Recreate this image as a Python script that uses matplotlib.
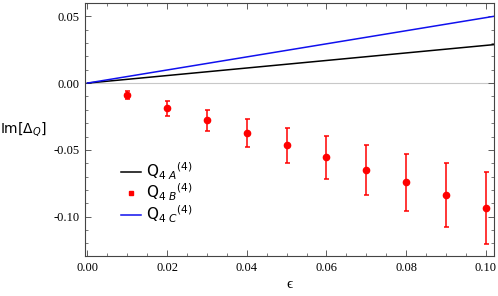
import matplotlib
matplotlib.use("Agg")
import matplotlib.pyplot as plt
from matplotlib.lines import Line2D
from matplotlib.ticker import MultipleLocator, FormatStrFormatter

# data
eps_pts = [0.01, 0.02, 0.03, 0.04, 0.05, 0.06, 0.07, 0.08, 0.09, 0.10]
im_B = [-0.0092, -0.0187, -0.0280, -0.0372, -0.0467, -0.0557, -0.0650, -0.0744, -0.0837, -0.0934]
err_B = [0.0030, 0.0056, 0.0081, 0.0105, 0.0133, 0.0163, 0.0187, 0.0216, 0.0240, 0.0270]

eps_line = [0.0, 0.102]
im_A = [0.0, 0.0288]
im_C = [0.0, 0.0500]

plt.rcParams['mathtext.fontset'] = 'dejavusans'

fig = plt.figure(figsize=(4.98, 2.96), dpi=100)
ax = fig.add_axes([0.1707, 0.135, 0.821, 0.855])

ax.axhline(0, color='#c8c8c8', lw=0.8, zorder=0)
ax.plot(eps_line, im_A, color='black', lw=1.1)
ax.plot(eps_line, im_C, color='#1010ee', lw=1.1)
ax.errorbar(eps_pts, im_B, yerr=err_B, fmt='o', color='#ff0000', ms=4.5,
            elinewidth=1.1, capsize=1.8, capthick=1.1)

ax.set_xlim(-0.0006, 0.102)
ax.set_ylim(-0.1295, 0.06)

ax.xaxis.set_major_locator(MultipleLocator(0.02))
ax.xaxis.set_minor_locator(MultipleLocator(0.005))
ax.yaxis.set_major_locator(MultipleLocator(0.05))
ax.yaxis.set_minor_locator(MultipleLocator(0.01))
ax.xaxis.set_major_formatter(FormatStrFormatter('%.2f'))
ax.yaxis.set_major_formatter(FormatStrFormatter('%.2f'))

ax.tick_params(which='both', direction='in', top=True, right=True, color='#444444',
               labelsize=9, pad=4)
ax.tick_params(which='major', length=4, width=0.6)
ax.tick_params(which='minor', length=2, width=0.5)
for lab in ax.get_xticklabels() + ax.get_yticklabels():
    lab.set_fontfamily('Liberation Serif')
for sp in ax.spines.values():
    sp.set_color('#444444')
    sp.set_linewidth(0.8)

ax.set_xlabel('ϵ', fontsize=11, labelpad=3, family=['Liberation Serif', 'DejaVu Serif'])
ax.set_ylabel(r'Im[$\Delta_Q$]', fontsize=10, rotation=0, labelpad=22, va='center')

handles = [
    Line2D([], [], color='black', lw=1.1),
    Line2D([], [], color='#ff0000', marker='s', ls='none', ms=3.5),
    Line2D([], [], color='#1010ee', lw=1.1),
]
labels = [r'Q$_{4\ A}$$^{(4)}$', r'Q$_{4\ B}$$^{(4)}$', r'Q$_{4\ C}$$^{(4)}$']
ax.legend(handles, labels, loc='center left', bbox_to_anchor=(0.055, 0.25),
          frameon=False, fontsize=11, handlelength=1.3, handletextpad=0.3,
          labelspacing=0.02)

fig.savefig('out.png', dpi=100)
